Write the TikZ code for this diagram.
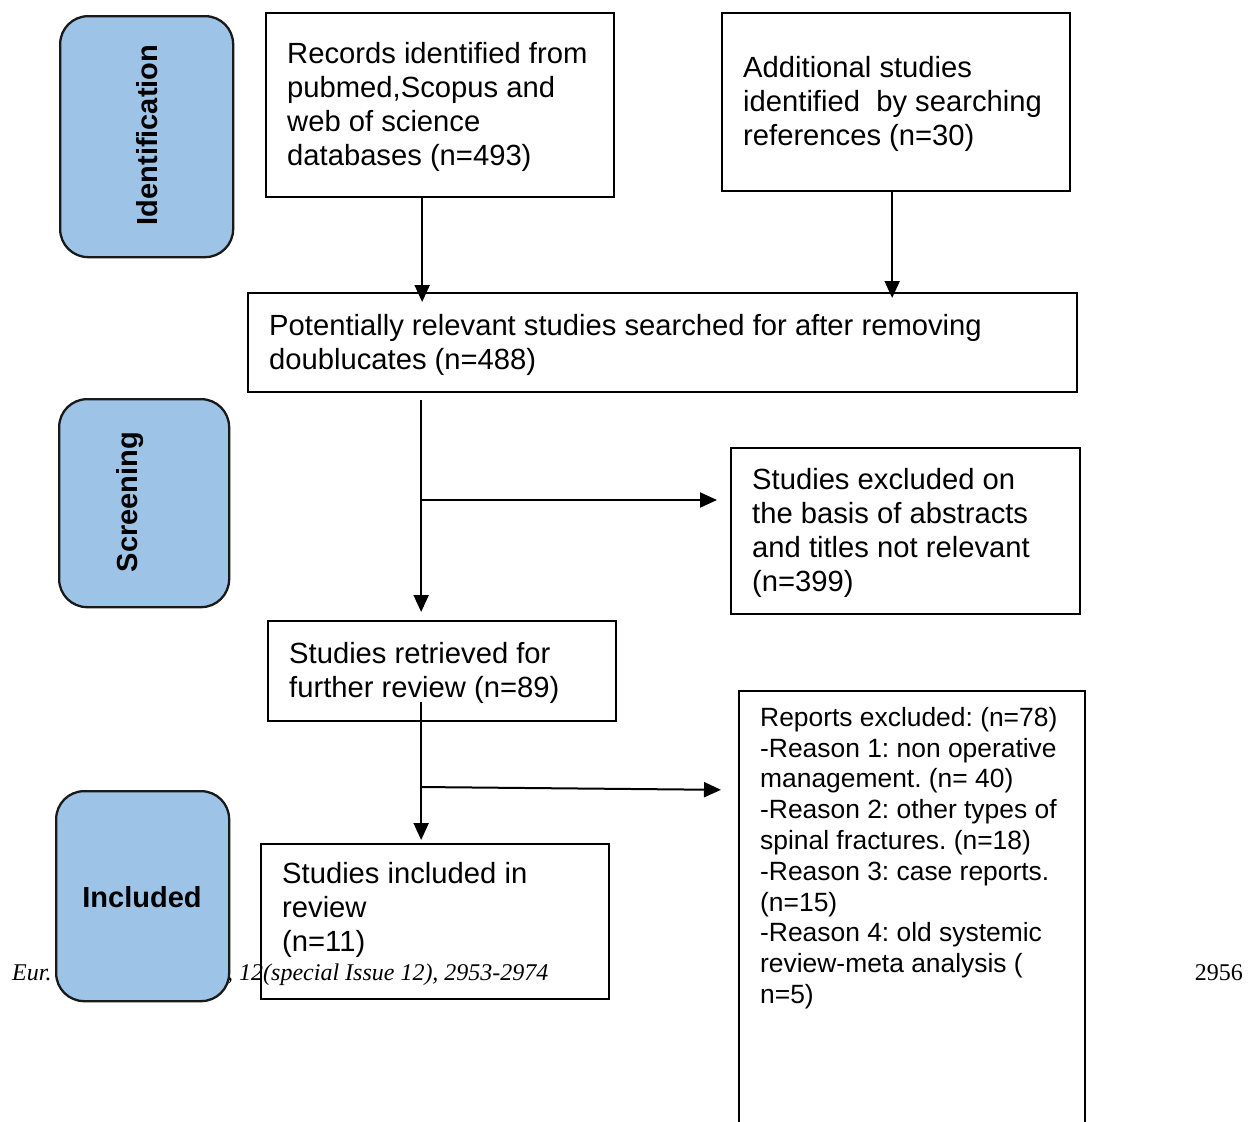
\documentclass[tikz,border=0pt]{standalone}
\usepackage{fontspec}
\setmainfont{Liberation Sans}
\newfontfamily\serifft{Liberation Serif}
\usetikzlibrary{arrows.meta}
\definecolor{stagefill}{RGB}{157,195,230}
\frenchspacing
\tikzset{
 box/.style={draw=black, line width=2.3pt, inner sep=0pt, anchor=north west},
 stage/.style={draw=black!90, fill=stagefill, line width=2.3pt, rounded corners=28pt, inner sep=0pt, anchor=north west},
 txt/.style={anchor=west, inner sep=0pt, align=left, font=\frenchspacing\fontsize{29.2}{34}\selectfont},
 smalltxt/.style={anchor=west, inner sep=0pt, align=left, font=\frenchspacing\fontsize{26.4}{30.8}\selectfont},
 stagetxt/.style={inner sep=0pt, font=\fontsize{29}{34}\selectfont\bfseries},
 arr/.style={line width=2pt, -{Triangle[length=17pt,width=15pt]}},
 foot/.style={inner sep=0pt, anchor=base west, font=\frenchspacing\serifft\itshape\fontsize{24}{28}\selectfont},
 pagenum/.style={inner sep=0pt, anchor=base east, font=\serifft\fontsize{24}{28}\selectfont},
}
\begin{document}
\begin{tikzpicture}[x=1pt,y=-1pt]
\useasboundingbox (0,0) rectangle (1248,1122);
\clip (0,0) rectangle (1248,1122);
% boxes
\node[box, minimum width=348pt, minimum height=184pt] (A) at (265,12) {};
\node[box, minimum width=348pt, minimum height=178pt] (B) at (721,12) {};
\node[box, minimum width=829pt, minimum height=99pt] (C) at (247,292) {};
\node[box, minimum width=349pt, minimum height=166pt] (E) at (730,447) {};
\node[box, minimum width=348pt, minimum height=100pt] (D) at (267,620) {};
\node[box, minimum width=348pt, minimum height=155pt] (F) at (260,843) {};
\node[box, minimum width=346pt, minimum height=460pt] (G) at (738,690) {};
% texts
\node[txt] (tA) at (287,107) {Records identified from\\pubmed,Scopus and\\web of science\\databases (n=493)};
\node[txt] (tB) at (743,104) {Additional studies\\identified\ \ by searching\\references (n=30)};
\node[txt] (tC) at (269,345) {Potentially relevant studies searched for after removing\\doublucates (n=488)};
\node[txt] (tE) at (752,533) {Studies excluded on\\the basis of abstracts\\and titles not relevant\\(n=399)};
\node[txt] (tD) at (289,673) {Studies retrieved for\\further review (n=89)};
\node[txt] (tF) at (282,910) {Studies included in\\review\\(n=11)};
\node[smalltxt] (tG) at (760,858) {Reports excluded: (n=78)\\-Reason 1: non operative\\management. (n= 40)\\-Reason 2: other types of\\spinal fractures. (n=18)\\-Reason 3: case reports.\\(n=15)\\-Reason 4: old systemic\\review-meta analysis (\\n=5)};
% connectors
\coordinate (j1) at (420,500);
\coordinate (j2) at (420,787);
\draw[arr, shorten >=-10pt] ([xshift=-18pt]A.south) -- ([xshift=-18pt]A.south |- C.north);
\draw[arr, shorten >=-6pt] ([xshift=-4pt]B.south) -- ([xshift=-4pt]B.south |- C.north);
\draw[arr, shorten <=7pt, shorten >=8pt] ([xshift=-21pt]D.north |- C.south) -- ([xshift=-21pt]D.north);
\draw[arr, shorten >=13pt] (j1) -- (j1 -| E.west);
\draw[arr, shorten <=-20pt, shorten >=3pt] ([xshift=-14pt]F.north |- D.south) -- ([xshift=-14pt]F.north);
\draw[arr, shorten >=17pt] (j2) -- ([yshift=-3pt]j2 -| G.west);
% footer
\node[foot] (f1) at (12,980) {Eur.};
\node[foot] (f2) at (227,980) {, 12(special Issue 12), 2953-2974};
\node[pagenum] (f3) at (1243,980) {2956};
% stage boxes
\node[stage, minimum width=173pt, minimum height=241pt] (S1) at (59,15) {};
\node[stage, minimum width=170pt, minimum height=208pt] (S2) at (58,398) {};
\node[stage, minimum width=173pt, minimum height=210pt] (S3) at (55,790) {};
\node[stagetxt, rotate=90] (s1) at (147,135) {Identification};
\node[stagetxt, rotate=90] (s2) at (130,502) {Screening};
\node[stagetxt] (s3) at (142,897) {Included};
\end{tikzpicture}
\end{document}
